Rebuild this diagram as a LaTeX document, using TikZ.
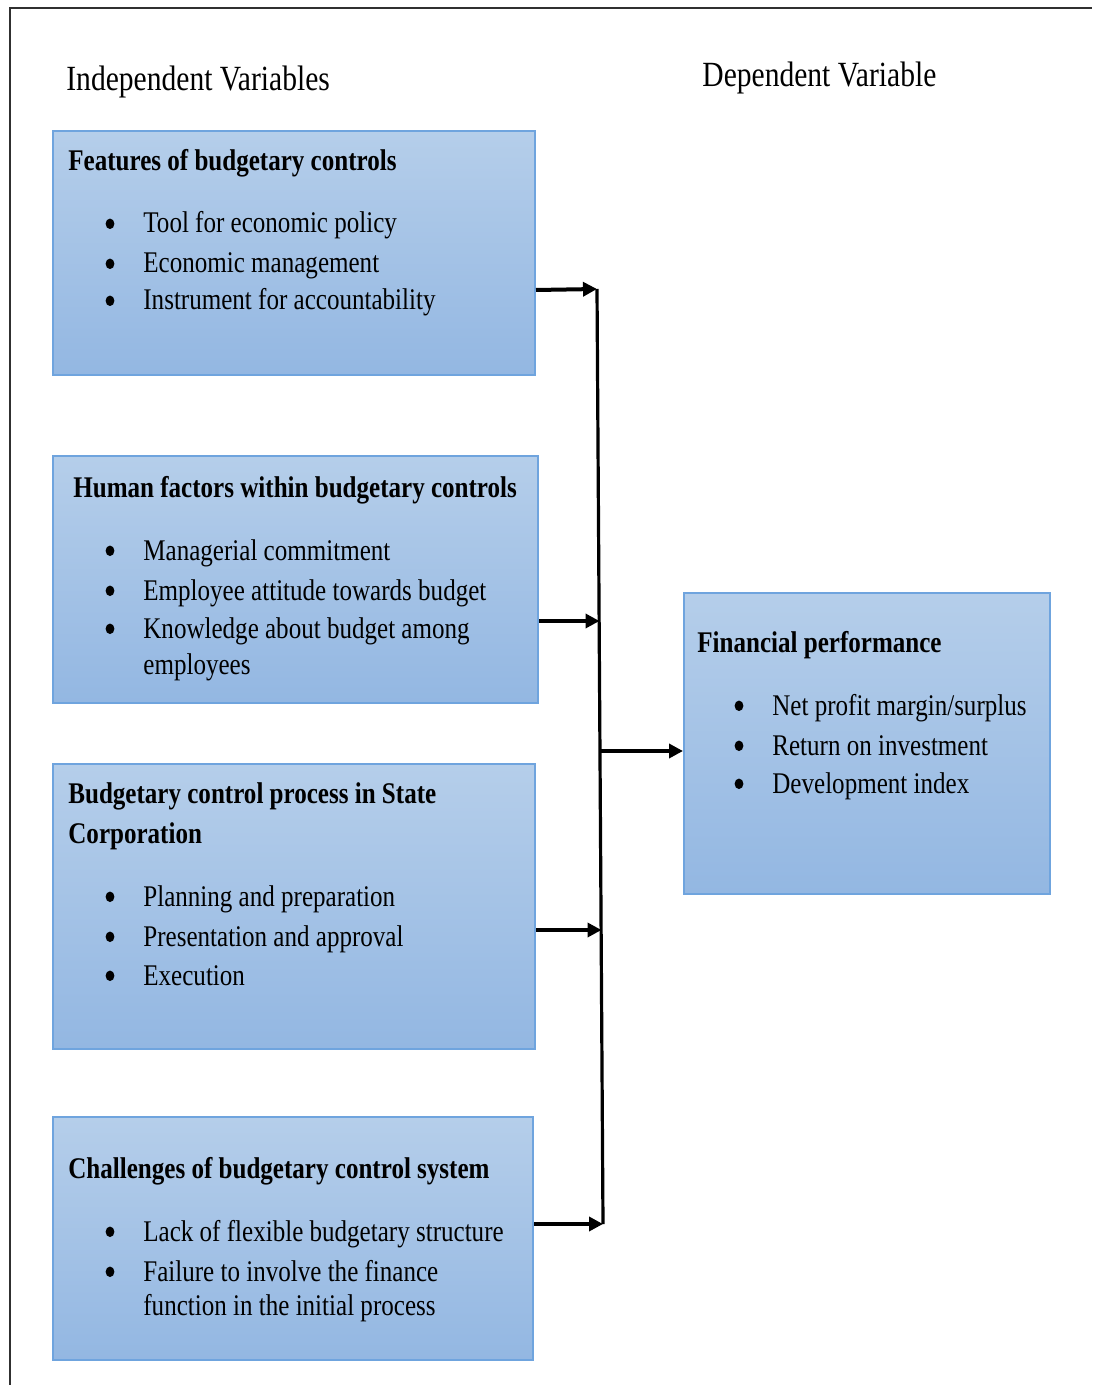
\documentclass[tikz,border=0pt]{standalone}
\usepackage{fontspec}
\setmainfont{Liberation Serif}[FakeStretch=0.835]
\usetikzlibrary{arrows.meta}

\definecolor{boxtop}{HTML}{B5CEEA}
\definecolor{boxbot}{HTML}{93B7E2}
\definecolor{boxline}{HTML}{6FA4DE}
\definecolor{framecol}{HTML}{303030}

\tikzset{
  varbox/.style={draw=boxline, line width=1pt, top color=boxtop, bottom color=boxbot,
    rectangle, inner sep=0pt},
  lbl/.style={inner sep=0pt, anchor=base west, font=\fontsize{15}{18}\selectfont},
  head/.style={lbl, font=\fontsize{15}{18}\selectfont\bfseries},
  colhead/.style={lbl, font=\fontsize{17.7}{20}\selectfont},
  dot/.style={fill=black},
  link/.style={line width=2pt, -{Triangle[length=7pt,width=7pt]}},
  spine/.style={line width=1.6pt},
}

% bullet item: #1 name, #2 x of text, #3 baseline y, #4 text
\newcommand{\bitem}[4]{%
  \node[lbl] (#1) at (#2,#3) {#4};
  \fill[dot] ([xshift=-16.5pt,yshift=4.6pt]#1.base west) ellipse (2.2pt and 2.6pt);}

\begin{document}
\begin{tikzpicture}[x=0.5pt,y=-0.5pt]
\useasboundingbox (0,0) rectangle (1092,1385);

% outer frame (top and left edges)
\draw[framecol, line width=1pt] (10,1385) -- (10,8) -- (1092,8);

% column headings
\node[colhead] (hind) at (66,91) {Independent Variables};
\node[colhead] (hdep) at (702,87) {Dependent Variable};

% boxes
\node[varbox, minimum width=241pt, minimum height=122pt] (b1) at (294,253) {};
\node[varbox, minimum width=242.5pt, minimum height=123.5pt] (b2) at (295.5,579.5) {};
\node[varbox, minimum width=241pt, minimum height=142.5pt] (b3) at (294,906.5) {};
\node[varbox, minimum width=240pt, minimum height=121.5pt] (b4) at (293,1238.5) {};
\node[varbox, minimum width=183pt, minimum height=150.5pt] (b5) at (867,743.5) {};

% box 1
\node[head] (t1) at (68,171) {Features of budgetary controls};
\bitem{i11}{143}{233}{Tool for economic policy}
\bitem{i12}{143}{273}{Economic management}
\bitem{i13}{143}{310}{Instrument for accountability}

% box 2
\node[head] (t2) at (73,497) {Human factors within budgetary controls};
\bitem{i21}{143}{560}{Managerial commitment}
\bitem{i22}{143}{600}{Employee attitude towards budget}
\bitem{i23}{143}{638}{Knowledge about budget among}
\node[lbl] (i24) at (143,674) {employees};

% box 3
\node[head] (t3a) at (68,803) {Budgetary control process in State};
\node[head] (t3b) at (68,843) {Corporation};
\bitem{i31}{143}{906}{Planning and preparation}
\bitem{i32}{143}{946}{Presentation and approval}
\bitem{i33}{143}{985}{Execution}

% box 4
\node[head] (t4) at (68,1178) {Challenges of budgetary control system};
\bitem{i41}{143}{1241}{Lack of flexible budgetary structure}
\bitem{i42}{143}{1281}{Failure to involve the finance}
\node[lbl] (i43) at (143,1315) {function in the initial process};

% box 5
\node[head] (t5) at (697,652) {Financial performance};
\bitem{i51}{772}{715}{Net profit margin/surplus}
\bitem{i52}{772}{755}{Return on investment}
\bitem{i53}{772}{793}{Development index}

% connector spine
\coordinate (s1) at (597,289);
\coordinate (s2) at (599.5,621);
\coordinate (s5) at (600,751);
\coordinate (s3) at (601.5,930);
\coordinate (s4) at (603,1224);
\draw[spine] (s1) -- (s4);

\draw[link] (b1.east |- 0,290) -- (s1);
\draw[link] (b2.east |- 0,621) -- (s2);
\draw[link] (b3.east |- 0,930) -- (s3);
\draw[link] (b4.east |- 0,1224) -- (s4);
\draw[link] (s5) -- (b5.west |- s5);
\end{tikzpicture}
\end{document}
